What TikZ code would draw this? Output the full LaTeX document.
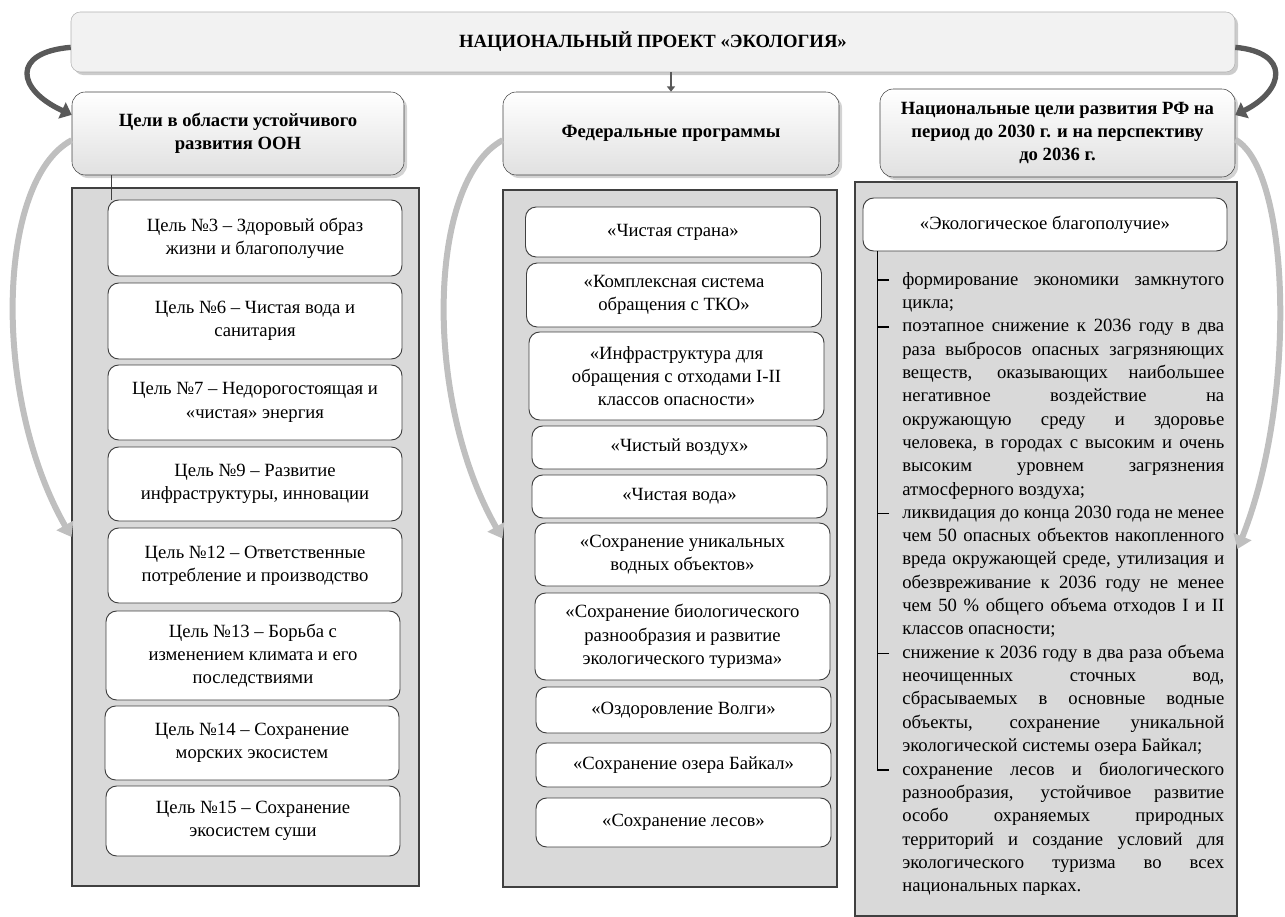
\documentclass[tikz,border=0pt]{standalone}
\usepackage{fontspec}
\setmainfont{Liberation Serif}
\usetikzlibrary{arrows.meta,shadows}
\tolerance=10000
\hbadness=10000
\hyphenpenalty=10000

\begin{document}
\begin{tikzpicture}[x=0.75pt,y=-0.75pt]
\tikzstyle{every node}=[font=\fontsize{14pt}{17.5pt}\selectfont, align=center, inner sep=0pt];
\tikzstyle{title}=[draw=black!30, fill=black!5, rounded corners=7pt, drop shadow={opacity=0.4}, font=\bfseries\fontsize{14pt}{17pt}\selectfont];
\tikzstyle{head}=[draw=black!75, rounded corners=10pt, top color=white, bottom color=black!12, drop shadow={opacity=0.35}, font=\bfseries\fontsize{14pt}{17pt}\selectfont];
\tikzstyle{panel}=[draw=black!75, fill=black!15, line width=0.8pt];
\tikzstyle{item}=[draw=black!75, fill=white, rounded corners=8pt, line width=0.7pt];
\tikzstyle{goal}=[item, minimum width=220.5pt];
\tikzstyle{prog}=[item, minimum width=221.25pt];
\tikzstyle{bullet}=[anchor=base west, text width=241.5pt, align=justify];
\tikzstyle{darrow}=[black!65, line width=4pt, -{Triangle[width=13pt,length=8pt]}];
\tikzstyle{larrow}=[black!25, line width=4.5pt, -{Triangle[width=14pt,length=10pt]}];

\useasboundingbox (0,0) rectangle (1285,917);

  % panels
  \node[panel, minimum width=260.25pt, minimum height=523.5pt] (leftpanel) at (245.5,537) {};
  \node[panel, minimum width=250.5pt, minimum height=522.75pt] (midpanel) at (670,538.5) {};
  \node[panel, minimum width=286.5pt, minimum height=550.5pt] (rightpanel) at (1046,549) {};

  % headers
  \node[title, minimum width=873pt, minimum height=45pt] (title) at (653,42) {НАЦИОНАЛЬНЫЙ ПРОЕКТ «ЭКОЛОГИЯ»};
  \node[head, minimum width=249pt, minimum height=62.25pt] (lefthead) at (238,133.5) {Цели в области устойчивого\\развития ООН};
  \node[head, minimum width=252pt, minimum height=62.25pt] (midhead) at (671,133.5) {Федеральные программы};
  \node[head, minimum width=266.25pt, minimum height=66pt] (righthead) at (1057.5,133) {Национальные цели развития РФ на\\период до 2030 г. и на перспективу\\до 2036 г.};

  % goals
  \node[goal, minimum height=57pt] (g3) at (255,238) {Цель №3 – Здоровый образ\\жизни и благополучие};
  \node[goal, minimum height=57pt] (g6) at (255,321) {Цель №6 – Чистая вода и\\санитария};
  \node[goal, minimum height=56.25pt] (g7) at (255,402.5) {Цель №7 – Недорогостоящая и\\«чистая» энергия};
  \node[goal, minimum height=55.5pt] (g9) at (255,484) {Цель №9 – Развитие\\инфраструктуры, инновации};
  \node[goal, minimum height=56.25pt] (g12) at (255,565.5) {Цель №12 – Ответственные\\потребление и производство};
  \node[goal, minimum height=66.75pt] (g13) at (253,655.5) {Цель №13 – Борьба с\\изменением климата и его\\последствиями};
  \node[goal, minimum height=55.5pt] (g14) at (252,743) {Цель №14 – Сохранение\\морских экосистем};
  \node[goal, minimum height=52.5pt] (g15) at (253,821) {Цель №15 – Сохранение\\экосистем суши};

  % programmes
  \node[prog, minimum height=37.5pt] (p1) at (673,232) {«Чистая страна»};
  \node[prog, minimum height=48pt] (p2) at (674,295) {«Комплексная система\\обращения с ТКО»};
  \node[prog, minimum height=66pt] (p3) at (676.5,376) {«Инфраструктура для\\обращения с отходами I-II\\классов опасности»};
  \node[prog, minimum height=32.25pt] (p4) at (679.5,447.5) {«Чистый воздух»};
  \node[prog, minimum height=32.25pt] (p5) at (679.5,496.5) {«Чистая вода»};
  \node[prog, minimum height=47.25pt] (p6) at (682.5,554.5) {«Сохранение уникальных\\водных объектов»};
  \node[prog, minimum height=65.25pt] (p7) at (682.5,636.5) {«Сохранение биологического\\разнообразия и развитие\\экологического туризма»};
  \node[prog, minimum height=34.5pt] (p8) at (683.5,710) {«Оздоровление Волги»};
  \node[prog, minimum height=33pt] (p9) at (683.5,765) {«Сохранение озера Байкал»};
  \node[prog, minimum height=36.75pt] (p10) at (683.5,822.5) {«Сохранение лесов»};

  % national goals
  \node[item, minimum width=273pt, minimum height=39.75pt] (wellbeing) at (1045,224.5) {«Экологическое благополучие»};
  \node[bullet] (b1) at (902,285) {формирование экономики замкнутого\linebreak цикла;};
  \node[bullet] (b2) at (902,331.7) {поэтапное снижение к 2036 году в два\linebreak раза выбросов опасных загрязняющих\linebreak веществ, оказывающих наибольшее\linebreak негативное воздействие на\linebreak окружающую среду и здоровье\linebreak человека, в городах с высоким и очень\linebreak высоким уровнем загрязнения\linebreak атмосферного воздуха;};
  \node[bullet] (b3) at (902,518.3) {ликвидация до конца 2030 года не менее\linebreak чем 50 опасных объектов накопленного\linebreak вреда окружающей среде, утилизация и\linebreak обезвреживание к 2036 году не менее\linebreak чем 50~\% общего объема отходов I и II\linebreak классов опасности;};
  \node[bullet] (b4) at (902,658.3) {снижение к 2036 году в два раза объема\linebreak неочищенных сточных вод,\linebreak сбрасываемых в основные водные\linebreak объекты, сохранение уникальной\linebreak экологической системы озера Байкал;};
  \node[bullet] (b5) at (902,775) {сохранение лесов и биологического\linebreak разнообразия, устойчивое развитие\linebreak особо охраняемых природных\linebreak территорий и создание условий для\linebreak экологического туризма во всех\linebreak национальных парках.};

  \coordinate (brtop) at ([xshift=11.25pt]wellbeing.south west);
  \foreach \b in {b1,b2,b3,b4}
\draw [line width=1.2pt] ([xshift=-9.75pt,yshift=3.75pt]\b.base west) -- ++(-8.25pt,0);
  \draw [line width=1.2pt] (brtop) |- ([xshift=-9.75pt,yshift=3.75pt]b5.base west);

  \coordinate (g3top) at ([xshift=2.5pt]g3.north west);
  \draw [black!75] (g3top) -- (g3top |- lefthead.south);

  % arrows
  \draw [black!65, line width=2pt, -{Triangle[width=6pt,length=4pt]}] (midhead.north |- title.south) -- (midhead.north);
  \draw [darrow] ([yshift=-4pt]title.west) .. controls +(-60,5) and +(-55,-25) .. ([yshift=14pt]lefthead.west);
  \draw [darrow] ([yshift=-4pt]title.east) .. controls +(55,5) and +(50,-25) .. ([yshift=13.5pt]righthead.east);

  \draw [larrow] ([yshift=-5pt]lefthead.west) .. controls +(-75,40) and +(-80,-140) .. (leftpanel.west);
  \draw [larrow] ([yshift=-5pt]midhead.west) .. controls +(-75,40) and +(-80,-140) .. (midpanel.west);
  \draw [larrow] ([yshift=-5pt]righthead.east) .. controls +(55,30) and +(60,-150) .. (rightpanel.east);

\end{tikzpicture}
\end{document}
